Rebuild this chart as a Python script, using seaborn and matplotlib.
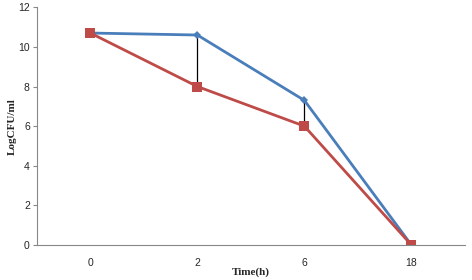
import pandas as pd
import matplotlib.pyplot as plt
import seaborn as sns

time_labels = ["0", "2", "6", "18"]
blue_vals = [10.7, 10.6, 7.3, 0.0]
red_vals = [10.7, 8.0, 6.0, 0.0]
y_ticks = [0, 2, 4, 6, 8, 10, 12]

df = pd.DataFrame({
    "time": time_labels * 2,
    "value": blue_vals + red_vals,
    "series": ["A"] * 4 + ["B"] * 4,
})

sns.set_style("white")
plt.rcParams["font.family"] = ["Liberation Sans", "DejaVu Sans"]

fig = plt.figure(figsize=(4.72, 2.8), dpi=100)
ax = fig.add_axes([0.078, 0.125, 0.907, 0.849])

# drop lines between the two series
for i in [1, 2]:
    ax.vlines(i, red_vals[i], blue_vals[i], color="black", lw=0.9, zorder=1)

sns.lineplot(data=df, x="time", y="value", hue="series", style="series",
             palette={"A": "#4A7EBB", "B": "#BE4B48"},
             markers={"A": "D", "B": "s"}, dashes=False, lw=2,
             markersize=5, markeredgewidth=0, sort=False, ax=ax, legend=False)
for line, ms in zip(ax.get_lines()[-2:], [4.5, 7]):
    line.set_markersize(ms)

ax.set_xlim(-0.5, 3.5)
ax.set_ylim(0, 12)
ax.set_yticks(y_ticks)
ax.tick_params(axis="y", length=3, width=0.8, color="#888888", labelsize=7.5, pad=2, left=True)
ax.tick_params(axis="x", length=0, labelsize=7.5, pad=9)
for s in ["top", "right"]:
    ax.spines[s].set_visible(False)
for s in ["left", "bottom"]:
    ax.spines[s].set_color("#888888")
    ax.spines[s].set_linewidth(0.8)

ax.set_ylabel("LogCFU/ml", fontsize=8, fontweight="bold", family="Liberation Serif", labelpad=1)
ax.set_xlabel("Time(h)", fontsize=8, fontweight="bold", family="Liberation Serif", labelpad=0)

fig.savefig("out.png", dpi=100)
